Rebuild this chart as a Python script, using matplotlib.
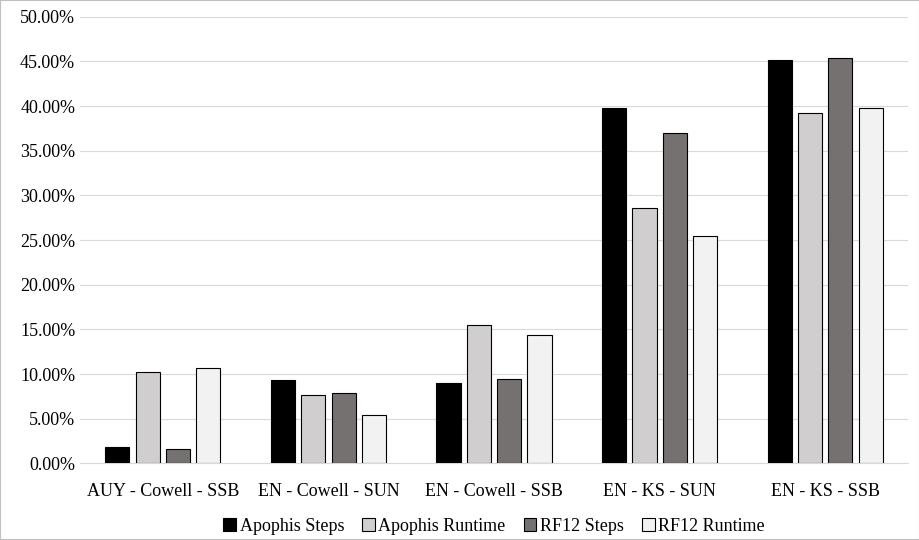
import numpy as np
import matplotlib.pyplot as plt

categories = ['AUY - Cowell - SSB', 'EN - Cowell - SUN', 'EN - Cowell - SSB', 'EN - KS - SUN', 'EN - KS - SSB']
apophis_steps = [1.8, 9.3, 9.0, 39.8, 45.2]
apophis_runtime = [10.2, 7.7, 15.5, 28.6, 39.2]
rf12_steps = [1.6, 7.9, 9.4, 37.0, 45.4]
rf12_runtime = [10.7, 5.4, 14.4, 25.5, 39.8]

series = [('Apophis Steps', apophis_steps, '#000000'),
          ('Apophis Runtime', apophis_runtime, '#d0cece'),
          ('RF12 Steps', rf12_steps, '#767171'),
          ('RF12 Runtime', rf12_runtime, '#f2f2f2')]

plt.rcParams['font.family'] = ['Liberation Serif', 'DejaVu Serif']
fig = plt.figure(figsize=(9.2, 5.4), dpi=100)
ax = fig.add_axes([0.087, 0.142, 0.9, 0.827])

x = np.arange(len(categories))
w = 0.146
pitch = 0.183
for i, (name, vals, col) in enumerate(series):
    ax.bar(x + (i - 1.5) * pitch, vals, width=w, color=col,
           edgecolor='black', linewidth=0.8, label=name, zorder=3)

ax.set_ylim(0, 50)
ax.set_xlim(-0.5, 4.5)
ax.set_yticks(np.arange(0, 51, 5))
ax.set_yticklabels([f'{v:.2f}%' for v in np.arange(0, 51, 5)], fontsize=13)
ax.set_xticks(x)
ax.set_xticklabels(categories, fontsize=13)
ax.tick_params(axis='x', length=0, pad=14)
ax.tick_params(axis='y', length=0)
ax.grid(axis='y', color='#d9d9d9', linewidth=0.8, zorder=0)
for s in ['top', 'right', 'left']:
    ax.spines[s].set_visible(False)
ax.spines['bottom'].set_color('#d9d9d9')
ax.legend(loc='upper center', bbox_to_anchor=(0.5, -0.085), ncol=4, frameon=False,
          fontsize=13, handlelength=0.7, handletextpad=0.2, columnspacing=1.0)
fig.patches.append(plt.Rectangle((0, 0), 1, 1, transform=fig.transFigure,
                                 fill=False, edgecolor='#bfbfbf', linewidth=1.5))
fig.savefig('out.png')
